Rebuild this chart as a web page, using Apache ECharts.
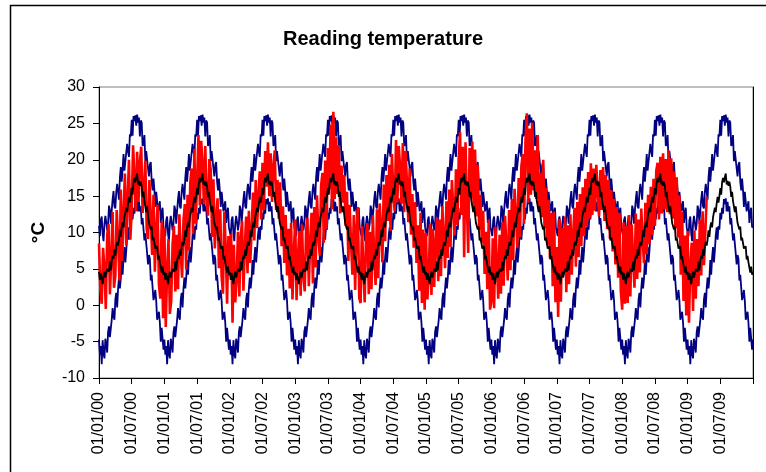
<!DOCTYPE html>
<html><head><meta charset="utf-8">
<script src="https://cdn.jsdelivr.net/npm/echarts/dist/echarts.min.js"></script>
<style>html,body{margin:0;padding:0;background:#fff}#c{width:766px;height:472px}</style>
</head><body><div id="c"></div>
<script>
// Tick labels (every 6 months)
const tickLabels = ['01/01/00','01/07/00','01/01/01','01/07/01','01/01/02','01/07/02','01/01/03','01/07/03','01/01/04','01/07/04',
  '01/01/05','01/07/05','01/01/06','01/07/06','01/01/07','01/07/07','01/01/08','01/07/08','01/01/09','01/07/09'];

// Annual climatology (every ~5 days, 72 per year) - identical every year in the reference
const meanYear = [4.6,3.5,4.4,3.7,2.9,4.0,4.6,3.8,3.6,5.0,4.9,4.6,6.0,4.8,6.1,6.8,6.4,7.7,6.8,8.1,8.7,8.2,9.0,10.3,
  9.4,10.8,11.4,10.7,12.1,12.1,13.4,12.8,14.0,14.9,14.1,15.0,16.1,15.2,16.9,17.5,16.9,17.6,18.1,16.6,17.1,16.4,17.0,16.3,
  14.9,15.6,14.3,14.4,12.8,13.6,12.4,11.3,11.5,10.4,10.8,8.9,9.3,9.2,7.8,7.9,8.1,6.3,6.8,5.9,6.1,4.5,5.3,4.2];
const upperYear = [10.9,9.5,11.7,12.2,9.8,8.8,11.2,12.3,11.4,10.3,11.2,13.7,13.1,11.2,13.0,14.6,15.7,13.6,13.3,15.6,16.7,15.6,14.5,17.5,
  19.0,17.0,18.7,20.8,18.5,18.5,21.0,22.2,21.1,20.4,23.5,23.2,25.5,23.3,26.0,25.3,26.1,24.7,26.2,25.1,25.8,23.2,25.4,25.1,
  21.9,22.2,23.4,19.8,21.2,21.4,18.8,17.7,19.3,19.7,17.0,15.8,17.4,15.8,13.5,15.6,15.8,12.9,13.1,14.3,11.3,12.8,13.4,10.7];
const lowerYear = [-4.7,-6.8,-5.6,-8.1,-4.8,-6.6,-7.3,-4.6,-5.3,-6.5,-3.7,-2.9,-4.4,-4.5,-2.0,-0.4,-1.5,-2.0,0.8,1.7,-0.3,2.3,3.8,2.3,
  3.7,6.2,4.2,6.6,8.0,5.9,7.5,9.6,10.7,9.0,10.9,10.4,12.7,11.8,13.4,12.6,14.6,13.9,14.7,12.9,14.2,12.9,13.6,11.1,
  12.0,12.0,8.9,9.9,9.8,7.1,5.6,6.9,6.4,3.4,4.2,4.3,0.7,1.3,2.1,0.6,-2.0,-2.2,-0.9,-2.4,-5.0,-3.1,-3.3,-6.1];

// Readings (about weekly, 48 per year)
const red2000 = [8.5,2.1,0.2,7.9,5.0,-0.5,9.6,11.2,1.5,6.3,12.8,2.4,4.1,13.1,9.0,3.4,15.9,6.1,12.4,18.1,8.2,14.6,20.0,9.0,
  13.1,22.0,17.8,12.9,21.1,14.2,19.6,21.8,12.7,16.1,19.9,10.5,9.1,17.2,12.0,6.9,15.2,4.6,10.3,13.8,2.8,0.9,11.5,-1.8];
const red2001 = [10.6,-3.0,4.8,9.1,-1.2,0.6,8.4,10.9,1.9,9.7,2.2,12.5,7.0,3.8,11.6,13.9,4.9,15.2,7.5,16.9,18.8,9.8,21.5,11.2,
  17.0,23.4,13.8,22.6,19.5,13.9,21.9,14.6,12.3,20.1,18.6,9.4,17.3,7.8,11.9,14.7,5.1,13.2,3.9,1.6,12.8,8.0,0.2,9.5];
const red2002 = [4.1,9.8,-2.4,8.3,0.4,3.6,10.1,1.2,9.4,11.6,2.0,7.9,12.2,4.4,13.0,5.8,10.2,15.5,8.9,17.2,10.6,15.1,18.4,11.8,
  19.6,13.1,21.2,16.3,22.4,15.0,20.9,14.2,19.1,21.3,13.1,17.2,11.9,16.9,8.1,13.6,5.8,12.4,4.1,10.5,2.3,11.3,0.8,7.2];
const red2003 = [11.8,0.7,6.4,10.2,1.3,11.1,4.0,1.9,10.4,12.0,2.6,8.8,12.7,3.0,13.5,5.2,15.1,9.6,6.8,16.4,18.2,8.6,19.9,10.4,
  21.6,16.0,24.8,13.2,26.6,14.6,23.1,15.3,22.0,12.6,19.2,14.1,17.9,10.9,15.6,6.1,13.8,8.4,4.2,12.4,2.1,10.8,13.5,1.0];
const red2004 = [0.3,10.9,5.2,0.4,9.6,11.3,1.5,10.1,2.2,12.4,6.8,2.8,13.2,3.7,14.0,10.6,5.9,16.6,8.8,17.9,11.6,19.3,10.2,20.8,
  15.4,12.9,22.7,14.1,21.9,19.0,14.0,22.3,12.8,21.2,17.0,11.4,18.8,9.7,15.3,7.9,14.2,5.8,11.0,2.0,12.7,0.3,10.4,-0.6];
const red2005 = [9.9,0.8,3.9,11.2,1.4,10.5,2.5,8.7,12.1,3.3,11.8,4.0,13.6,9.5,5.1,14.3,6.5,15.9,8.0,17.2,13.4,9.6,18.7,11.0,
  20.1,23.8,12.4,21.8,6.6,22.4,13.6,7.2,21.6,14.7,22.5,13.5,21.4,12.2,19.3,10.4,15.2,8.6,13.0,4.3,10.1,2.2,11.7,-0.6];
const red2006 = [0.5,9.2,-0.4,10.8,6.0,0.9,9.7,1.6,11.4,2.7,12.3,8.2,3.4,13.1,4.8,14.6,6.2,16.0,12.4,7.9,17.5,9.4,19.1,20.8,
  11.2,22.6,26.4,14.1,24.3,15.2,25.1,15.8,21.3,14.6,23.4,13.5,18.2,12.1,20.0,10.6,16.1,8.3,14.5,6.4,12.7,2.6,12.9,0.4];
const red2007 = [8.0,-1.6,11.9,0.5,10.6,4.3,12.2,1.8,11.0,2.9,12.5,4.2,9.7,13.4,5.3,14.2,6.6,15.3,8.1,16.2,9.5,17.4,10.8,18.3,
  11.9,19.5,12.4,18.8,13.0,19.3,15.6,12.2,18.6,13.1,19.0,11.6,17.9,10.5,17.2,9.1,15.8,7.4,14.6,5.6,13.5,3.8,12.7,1.9];
const red2008 = [-0.6,11.4,0.2,10.9,0.3,12.4,1.2,11.1,6.5,2.4,12.6,3.6,11.8,4.5,13.3,9.0,5.8,14.1,7.0,15.2,8.4,16.3,9.7,17.4,
  10.9,18.5,19.6,11.8,20.4,12.6,20.9,13.2,20.1,12.8,21.3,12.5,20.2,11.9,18.4,10.6,17.6,9.3,15.1,4.2,12.8,0.6,9.6,-1.4];
const red2009 = [10.2,-2.4,5.6,8.6,-0.8,10.3,0.9,9.1,2.6,11.7,4.1,12.9,5.5,10.0,14.9];
const redYears = [red2000,red2001,red2002,red2003,red2004,red2005,red2006,red2007,red2008,red2009];

const YEARS = 10;
function climSeries(arr){
  const out = [];
  const per = arr.length / 12;
  for (let y = 0; y < YEARS; y++) for (let i = 0; i < arr.length; i++) out.push([y*12 + i/per, arr[i]]);
  out.push([YEARS*12, arr[0]]);
  return out;
}
const redData = [];
redYears.forEach((arr, y) => arr.forEach((v, k) => redData.push([y*12 + k/4, v])));

const chart = echarts.init(document.getElementById('c'), null, {renderer:'canvas'});
const FONT = 'Liberation Sans, Arial, sans-serif';
chart.setOption({
  animation: false,
  backgroundColor: '#ffffff',
  title: {text: 'Reading temperature', left: 'center', top: 24,
    textStyle: {fontFamily: FONT, fontWeight: 'bold', fontSize: 20, color: '#000'}},
  graphic: [{type:'rect', left: 8, top: 3, shape:{width: 900, height: 600},
    style:{fill:'none', stroke:'#000', lineWidth: 1.5}, silent: true, z: -1}],
  grid: {left: 99, right: 13, top: 87, bottom: 94, show: true, borderColor: '#808080', borderWidth: 1, backgroundColor: 'transparent'},
  xAxis: {type: 'value', min: 0, max: 120, interval: 6,
    axisLine: {onZero: false, lineStyle: {color: '#000', width: 1}},
    axisTick: {show: true, length: 6, lineStyle: {color: '#000'}},
    splitLine: {show: false},
    axisLabel: {rotate: 90, margin: 14, color: '#000', fontFamily: FONT, fontSize: 16,
      showMaxLabel: true, showMinLabel: true,
      formatter: v => tickLabels[Math.round(v/6)] || ''}},
  yAxis: [{type: 'value', min: -10, max: 30, interval: 5,
    name: '°C', nameLocation: 'middle', nameGap: 51, nameRotate: 90,
    nameTextStyle: {fontFamily: FONT, fontWeight: 'bold', fontSize: 19, color: '#000'},
    axisLine: {show: true, onZero: false, lineStyle: {color: '#000', width: 1}},
    axisTick: {show: true, length: 6, lineStyle: {color: '#000'}},
    splitLine: {show: false},
    axisLabel: {margin: 14, color: '#000', fontFamily: FONT, fontSize: 16}},
   {type: 'value', min: -10, max: 30, position: 'right',
    axisLine: {show: true, onZero: false, lineStyle: {color: '#000', width: 1}},
    axisTick: {show: false}, axisLabel: {show: false}, splitLine: {show: false}}],
  series: [
    {name: 'Upper', type: 'line', data: climSeries(upperYear), showSymbol: false, symbol: 'none',
      lineStyle: {color: '#000080', width: 1.8}, z: 2},
    {name: 'Lower', type: 'line', data: climSeries(lowerYear), showSymbol: false, symbol: 'none',
      lineStyle: {color: '#000080', width: 1.8}, z: 2},
    {name: 'Reading', type: 'line', data: redData, showSymbol: false, symbol: 'none',
      lineStyle: {color: '#ff0000', width: 2.6}, z: 3},
    {name: 'Mean', type: 'line', data: climSeries(meanYear), showSymbol: false, symbol: 'none',
      lineStyle: {color: '#000000', width: 1.8}, z: 4}
  ]
});
</script></body></html>
